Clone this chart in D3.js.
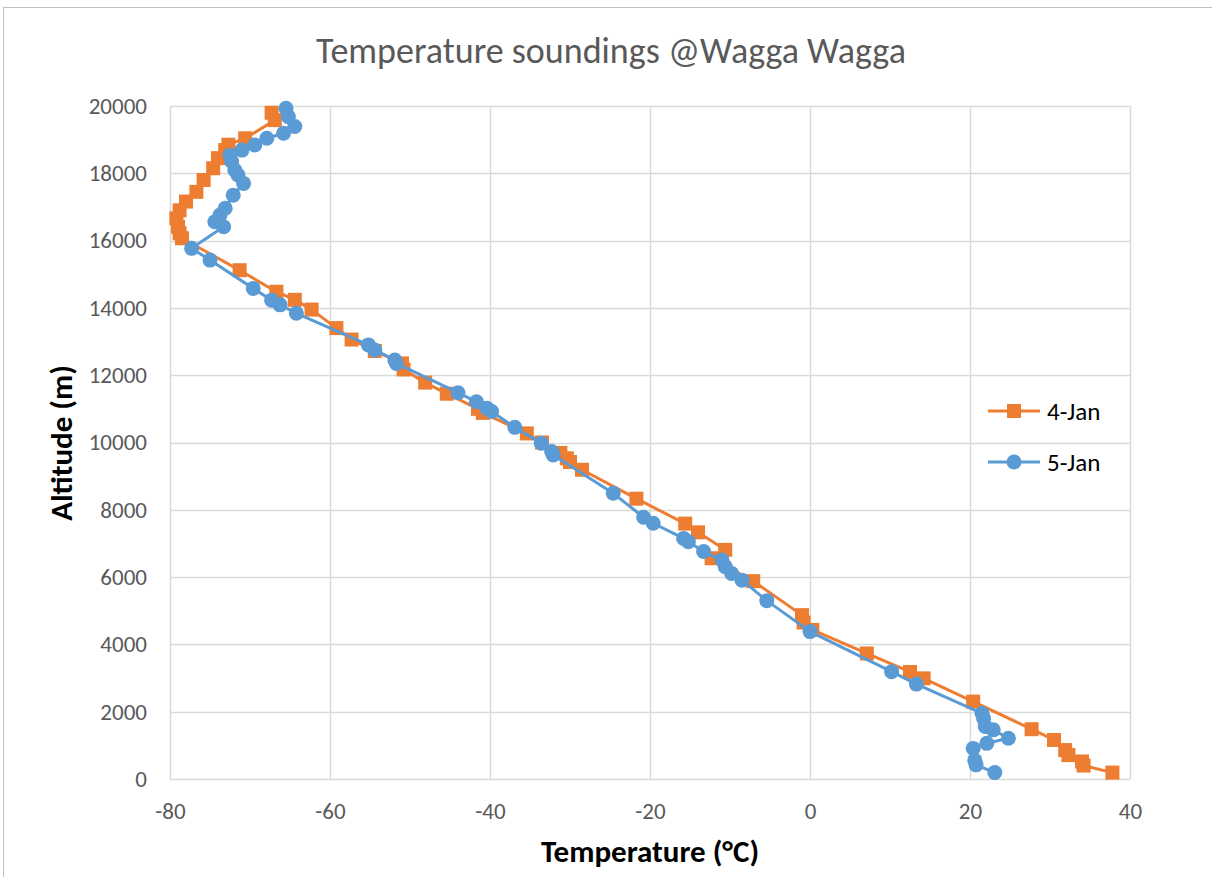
<!DOCTYPE html>
<html>
<head>
<meta charset="utf-8">
<script src="https://cdn.jsdelivr.net/npm/d3@7"></script>
<style>
    body { margin: 0; background: #fff; }
    svg text { font-family: Carlito, "Open Sans", "Noto Sans", sans-serif; }
</style>
</head>
<body>
<div class="chart"></div>
<script>
// 4-Jan sounding: temperature (°C) and altitude (m)
const jan4Temp = [37.8, 34.2, 34.0, 32.3, 31.9, 30.5, 27.7, 20.4, 14.2, 12.5, 7.1, 0.3, -0.8, -1.0,
    -7.1, -12.3, -10.6, -14.0, -15.6, -21.7, -28.5, -30.0, -30.4, -31.2, -33.5, -35.4, -40.9, -41.5,
    -45.4, -48.1, -50.8, -51.0, -54.4, -57.3, -59.2, -62.3, -64.4, -66.7, -71.3, -78.5, -78.8, -79.0,
    -79.2, -78.8, -78.0, -76.7, -75.8, -74.6, -74.0, -73.1, -72.7, -70.6, -66.9, -67.3];
const jan4Alt = [190, 400, 520, 710, 860, 1160, 1480, 2300, 2990, 3180, 3730, 4430, 4650, 4870,
    5880, 6560, 6810, 7330, 7590, 8330, 9190, 9420, 9530, 9690, 10000, 10270, 10880, 11000,
    11450, 11780, 12170, 12350, 12720, 13060, 13400, 13950, 14240, 14480, 15120, 16070, 16220, 16410,
    16660, 16900, 17160, 17450, 17800, 18150, 18450, 18690, 18850, 19040, 19580, 19800];

// 5-Jan sounding
const jan5Temp = [23.1, 20.75, 20.6, 20.4, 22.1, 24.8, 22.9, 21.9, 21.7, 21.5, 13.3, 10.2, 0.0, -5.4,
    -8.5, -9.8, -10.6, -11.0, -13.3, -15.2, -15.8, -19.6, -20.8, -24.6, -32.1, -32.3, -33.6, -36.9,
    -39.8, -40.4, -41.7, -44.0, -51.7, -51.9, -54.4, -55.2, -64.2, -66.25, -67.3, -69.6, -75.0, -77.3,
    -73.3, -74.4, -73.75, -73.1, -72.1, -70.8, -71.5, -71.9, -72.3, -72.5, -71.0, -69.4, -67.9, -65.8,
    -64.4, -65.2, -65.5];
const jan5Alt = [190, 420, 560, 910, 1060, 1210, 1460, 1560, 1800, 1950, 2820, 3190, 4380, 5300,
    5910, 6110, 6310, 6510, 6760, 7050, 7150, 7600, 7780, 8490, 9630, 9730, 9980, 10450,
    10920, 11020, 11210, 11480, 12350, 12450, 12750, 12900, 13840, 14090, 14230, 14580, 15420, 15770,
    16410, 16560, 16760, 16960, 17350, 17700, 17950, 18100, 18350, 18540, 18690, 18840, 19040, 19190,
    19390, 19680, 19930];

const xTicks = [-80, -60, -40, -20, 0, 20, 40];
const yTicks = [0, 2000, 4000, 6000, 8000, 10000, 12000, 14000, 16000, 18000, 20000];
const seriesNames = ['4-Jan', '5-Jan'];

const width = 1212;
const height = 877;
const margin = { top: 106, right: 82, bottom: 98, left: 170 };
const innerW = width - margin.left - margin.right;
const innerH = height - margin.top - margin.bottom;
const colors = ['#ED7D31', '#5B9BD5'];
const textColor = '#595959';

const svg = d3.select('.chart')
    .append('svg')
    .attr('width', width)
    .attr('height', height);

// chart frame
svg.append('rect')
    .attr('x', 3.5)
    .attr('y', 7.5)
    .attr('width', width + 20)
    .attr('height', height + 20)
    .attr('fill', '#fff')
    .attr('stroke', '#bfbfbf');

const g = svg.append('g')
    .attr('transform', `translate(${margin.left}, ${margin.top})`);

const x = d3.scaleLinear().domain([-80, 40]).range([0, innerW]);
const y = d3.scaleLinear().domain([0, 20000]).range([innerH, 0]);

// gridlines
g.append('g')
    .attr('class', 'x-grid')
    .selectAll('line')
    .data(xTicks)
    .enter()
    .append('line')
    .attr('x1', (d) => Math.round(x(d)) + 0.5)
    .attr('x2', (d) => Math.round(x(d)) + 0.5)
    .attr('y1', 0)
    .attr('y2', innerH)
    .attr('stroke', '#d9d9d9')
    .attr('stroke-width', 1.5);

g.append('g')
    .attr('class', 'y-grid')
    .selectAll('line')
    .data(yTicks)
    .enter()
    .append('line')
    .attr('x1', 0)
    .attr('x2', innerW)
    .attr('y1', (d) => Math.round(y(d)) + 0.5)
    .attr('y2', (d) => Math.round(y(d)) + 0.5)
    .attr('stroke', '#d9d9d9')
    .attr('stroke-width', 1.5);

// axes (plain hyphen for negatives, like the original)
const xAxis = g.append('g')
    .attr('class', 'x-axis')
    .attr('transform', `translate(0, ${innerH})`)
    .call(d3.axisBottom(x).tickValues(xTicks).tickSize(0).tickPadding(24).tickFormat((d) => String(d)));
xAxis.select('.domain').remove();

const yAxis = g.append('g')
    .attr('class', 'y-axis')
    .call(d3.axisLeft(y).tickValues(yTicks).tickSize(0).tickPadding(23).tickFormat((d) => String(d)));
yAxis.select('.domain').remove();

g.selectAll('.x-axis text, .y-axis text')
    .attr('fill', textColor)
    .style('font-size', '23px');

// series
const series = [
    { name: seriesNames[0], temp: jan4Temp, alt: jan4Alt, shape: 'square' },
    { name: seriesNames[1], temp: jan5Temp, alt: jan5Alt, shape: 'circle' },
];

const line = d3.line()
    .x((d) => x(d[0]))
    .y((d) => y(d[1]));

function addMarker(sel, shape, color) {
    if (shape === 'square') {
        sel.append('rect')
            .attr('x', -7)
            .attr('y', -7)
            .attr('width', 14)
            .attr('height', 14)
            .attr('fill', color);
    } else {
        sel.append('circle')
            .attr('r', 7.5)
            .attr('fill', color);
    }
}

series.forEach((s, i) => {
    const pts = s.temp.map((t, j) => [t, s.alt[j]]);
    const sg = g.append('g').attr('class', `series-${i}`);
    sg.append('path')
        .datum(pts)
        .attr('d', line)
        .attr('fill', 'none')
        .attr('stroke', colors[i])
        .attr('stroke-width', 3)
        .attr('stroke-linejoin', 'round');
    sg.selectAll('.marker')
        .data(pts)
        .enter()
        .append('g')
        .attr('class', 'marker')
        .attr('transform', (d) => `translate(${x(d[0])}, ${y(d[1])})`)
        .each(function () { addMarker(d3.select(this), s.shape, colors[i]); });
});

// legend
const legend = svg.append('g')
    .attr('class', 'legend')
    .attr('transform', 'translate(988, 411)');
series.forEach((s, i) => {
    const item = legend.append('g').attr('transform', `translate(0, ${i * 51})`);
    item.append('line')
        .attr('x1', 0)
        .attr('x2', 52)
        .attr('stroke', colors[i])
        .attr('stroke-width', 3);
    addMarker(item.append('g').attr('transform', 'translate(26, 0)'), s.shape, colors[i]);
    item.append('text')
        .attr('x', 59)
        .attr('dy', '0.35em')
        .attr('fill', '#000')
        .style('font-size', '25px')
        .text(s.name);
});

// title and axis labels
svg.append('text')
    .attr('x', 611)
    .attr('y', 63)
    .attr('text-anchor', 'middle')
    .attr('fill', textColor)
    .style('font-size', '36px')
    .text('Temperature soundings @Wagga Wagga');

svg.append('text')
    .attr('x', 650)
    .attr('y', 862)
    .attr('text-anchor', 'middle')
    .attr('fill', '#000')
    .style('font-size', '31px')
    .style('font-weight', 'bold')
    .text('Temperature (°C)');

svg.append('text')
    .attr('transform', 'translate(72, 443) rotate(-90)')
    .attr('text-anchor', 'middle')
    .attr('fill', '#000')
    .style('font-size', '31px')
    .style('font-weight', 'bold')
    .text('Altitude (m)');
</script>
</body>
</html>
